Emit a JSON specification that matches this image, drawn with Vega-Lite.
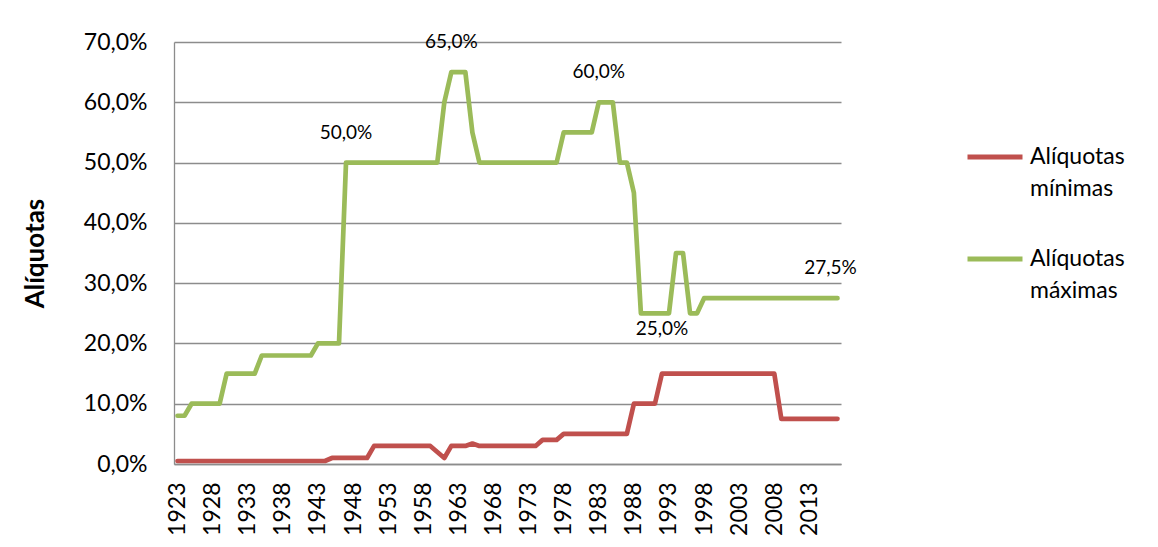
{
  "$schema": "https://vega.github.io/schema/vega-lite/v6.json",
  "width": 667,
  "height": 422,
  "autosize": {"type": "none"},
  "padding": {"left": 174, "top": 42, "right": 317, "bottom": 83},
  "background": "white",
  "config": {
    "view": {"stroke": null},
    "font": "Lato",
    "axis": {"labelColor": "#000000", "titleColor": "#000000", "labelFont": "Lato", "titleFont": "Lato"},
    "legend": {"labelColor": "#000000", "labelFont": "Lato"},
    "style": {"guide-label": {"lineHeight": 32}}
  },
  "datasets": {
    "serie": [
      {"ano": 1923, "Alíquotas mínimas": 0.005, "Alíquotas máximas": 0.08},
      {"ano": 1924, "Alíquotas mínimas": 0.005, "Alíquotas máximas": 0.08},
      {"ano": 1925, "Alíquotas mínimas": 0.005, "Alíquotas máximas": 0.10},
      {"ano": 1926, "Alíquotas mínimas": 0.005, "Alíquotas máximas": 0.10},
      {"ano": 1927, "Alíquotas mínimas": 0.005, "Alíquotas máximas": 0.10},
      {"ano": 1928, "Alíquotas mínimas": 0.005, "Alíquotas máximas": 0.10},
      {"ano": 1929, "Alíquotas mínimas": 0.005, "Alíquotas máximas": 0.10},
      {"ano": 1930, "Alíquotas mínimas": 0.005, "Alíquotas máximas": 0.15},
      {"ano": 1931, "Alíquotas mínimas": 0.005, "Alíquotas máximas": 0.15},
      {"ano": 1932, "Alíquotas mínimas": 0.005, "Alíquotas máximas": 0.15},
      {"ano": 1933, "Alíquotas mínimas": 0.005, "Alíquotas máximas": 0.15},
      {"ano": 1934, "Alíquotas mínimas": 0.005, "Alíquotas máximas": 0.15},
      {"ano": 1935, "Alíquotas mínimas": 0.005, "Alíquotas máximas": 0.18},
      {"ano": 1936, "Alíquotas mínimas": 0.005, "Alíquotas máximas": 0.18},
      {"ano": 1937, "Alíquotas mínimas": 0.005, "Alíquotas máximas": 0.18},
      {"ano": 1938, "Alíquotas mínimas": 0.005, "Alíquotas máximas": 0.18},
      {"ano": 1939, "Alíquotas mínimas": 0.005, "Alíquotas máximas": 0.18},
      {"ano": 1940, "Alíquotas mínimas": 0.005, "Alíquotas máximas": 0.18},
      {"ano": 1941, "Alíquotas mínimas": 0.005, "Alíquotas máximas": 0.18},
      {"ano": 1942, "Alíquotas mínimas": 0.005, "Alíquotas máximas": 0.18},
      {"ano": 1943, "Alíquotas mínimas": 0.005, "Alíquotas máximas": 0.20},
      {"ano": 1944, "Alíquotas mínimas": 0.005, "Alíquotas máximas": 0.20},
      {"ano": 1945, "Alíquotas mínimas": 0.01, "Alíquotas máximas": 0.20},
      {"ano": 1946, "Alíquotas mínimas": 0.01, "Alíquotas máximas": 0.20},
      {"ano": 1947, "Alíquotas mínimas": 0.01, "Alíquotas máximas": 0.50},
      {"ano": 1948, "Alíquotas mínimas": 0.01, "Alíquotas máximas": 0.50},
      {"ano": 1949, "Alíquotas mínimas": 0.01, "Alíquotas máximas": 0.50},
      {"ano": 1950, "Alíquotas mínimas": 0.01, "Alíquotas máximas": 0.50},
      {"ano": 1951, "Alíquotas mínimas": 0.03, "Alíquotas máximas": 0.50},
      {"ano": 1952, "Alíquotas mínimas": 0.03, "Alíquotas máximas": 0.50},
      {"ano": 1953, "Alíquotas mínimas": 0.03, "Alíquotas máximas": 0.50},
      {"ano": 1954, "Alíquotas mínimas": 0.03, "Alíquotas máximas": 0.50},
      {"ano": 1955, "Alíquotas mínimas": 0.03, "Alíquotas máximas": 0.50},
      {"ano": 1956, "Alíquotas mínimas": 0.03, "Alíquotas máximas": 0.50},
      {"ano": 1957, "Alíquotas mínimas": 0.03, "Alíquotas máximas": 0.50},
      {"ano": 1958, "Alíquotas mínimas": 0.03, "Alíquotas máximas": 0.50},
      {"ano": 1959, "Alíquotas mínimas": 0.03, "Alíquotas máximas": 0.50},
      {"ano": 1960, "Alíquotas mínimas": 0.02, "Alíquotas máximas": 0.50},
      {"ano": 1961, "Alíquotas mínimas": 0.01, "Alíquotas máximas": 0.60},
      {"ano": 1962, "Alíquotas mínimas": 0.03, "Alíquotas máximas": 0.65},
      {"ano": 1963, "Alíquotas mínimas": 0.03, "Alíquotas máximas": 0.65},
      {"ano": 1964, "Alíquotas mínimas": 0.03, "Alíquotas máximas": 0.65},
      {"ano": 1965, "Alíquotas mínimas": 0.034, "Alíquotas máximas": 0.55},
      {"ano": 1966, "Alíquotas mínimas": 0.03, "Alíquotas máximas": 0.50},
      {"ano": 1967, "Alíquotas mínimas": 0.03, "Alíquotas máximas": 0.50},
      {"ano": 1968, "Alíquotas mínimas": 0.03, "Alíquotas máximas": 0.50},
      {"ano": 1969, "Alíquotas mínimas": 0.03, "Alíquotas máximas": 0.50},
      {"ano": 1970, "Alíquotas mínimas": 0.03, "Alíquotas máximas": 0.50},
      {"ano": 1971, "Alíquotas mínimas": 0.03, "Alíquotas máximas": 0.50},
      {"ano": 1972, "Alíquotas mínimas": 0.03, "Alíquotas máximas": 0.50},
      {"ano": 1973, "Alíquotas mínimas": 0.03, "Alíquotas máximas": 0.50},
      {"ano": 1974, "Alíquotas mínimas": 0.03, "Alíquotas máximas": 0.50},
      {"ano": 1975, "Alíquotas mínimas": 0.04, "Alíquotas máximas": 0.50},
      {"ano": 1976, "Alíquotas mínimas": 0.04, "Alíquotas máximas": 0.50},
      {"ano": 1977, "Alíquotas mínimas": 0.04, "Alíquotas máximas": 0.50},
      {"ano": 1978, "Alíquotas mínimas": 0.05, "Alíquotas máximas": 0.55},
      {"ano": 1979, "Alíquotas mínimas": 0.05, "Alíquotas máximas": 0.55},
      {"ano": 1980, "Alíquotas mínimas": 0.05, "Alíquotas máximas": 0.55},
      {"ano": 1981, "Alíquotas mínimas": 0.05, "Alíquotas máximas": 0.55},
      {"ano": 1982, "Alíquotas mínimas": 0.05, "Alíquotas máximas": 0.55},
      {"ano": 1983, "Alíquotas mínimas": 0.05, "Alíquotas máximas": 0.60},
      {"ano": 1984, "Alíquotas mínimas": 0.05, "Alíquotas máximas": 0.60},
      {"ano": 1985, "Alíquotas mínimas": 0.05, "Alíquotas máximas": 0.60},
      {"ano": 1986, "Alíquotas mínimas": 0.05, "Alíquotas máximas": 0.50},
      {"ano": 1987, "Alíquotas mínimas": 0.05, "Alíquotas máximas": 0.50},
      {"ano": 1988, "Alíquotas mínimas": 0.10, "Alíquotas máximas": 0.45},
      {"ano": 1989, "Alíquotas mínimas": 0.10, "Alíquotas máximas": 0.25},
      {"ano": 1990, "Alíquotas mínimas": 0.10, "Alíquotas máximas": 0.25},
      {"ano": 1991, "Alíquotas mínimas": 0.10, "Alíquotas máximas": 0.25},
      {"ano": 1992, "Alíquotas mínimas": 0.15, "Alíquotas máximas": 0.25},
      {"ano": 1993, "Alíquotas mínimas": 0.15, "Alíquotas máximas": 0.25},
      {"ano": 1994, "Alíquotas mínimas": 0.15, "Alíquotas máximas": 0.35},
      {"ano": 1995, "Alíquotas mínimas": 0.15, "Alíquotas máximas": 0.35},
      {"ano": 1996, "Alíquotas mínimas": 0.15, "Alíquotas máximas": 0.25},
      {"ano": 1997, "Alíquotas mínimas": 0.15, "Alíquotas máximas": 0.25},
      {"ano": 1998, "Alíquotas mínimas": 0.15, "Alíquotas máximas": 0.275},
      {"ano": 1999, "Alíquotas mínimas": 0.15, "Alíquotas máximas": 0.275},
      {"ano": 2000, "Alíquotas mínimas": 0.15, "Alíquotas máximas": 0.275},
      {"ano": 2001, "Alíquotas mínimas": 0.15, "Alíquotas máximas": 0.275},
      {"ano": 2002, "Alíquotas mínimas": 0.15, "Alíquotas máximas": 0.275},
      {"ano": 2003, "Alíquotas mínimas": 0.15, "Alíquotas máximas": 0.275},
      {"ano": 2004, "Alíquotas mínimas": 0.15, "Alíquotas máximas": 0.275},
      {"ano": 2005, "Alíquotas mínimas": 0.15, "Alíquotas máximas": 0.275},
      {"ano": 2006, "Alíquotas mínimas": 0.15, "Alíquotas máximas": 0.275},
      {"ano": 2007, "Alíquotas mínimas": 0.15, "Alíquotas máximas": 0.275},
      {"ano": 2008, "Alíquotas mínimas": 0.15, "Alíquotas máximas": 0.275},
      {"ano": 2009, "Alíquotas mínimas": 0.075, "Alíquotas máximas": 0.275},
      {"ano": 2010, "Alíquotas mínimas": 0.075, "Alíquotas máximas": 0.275},
      {"ano": 2011, "Alíquotas mínimas": 0.075, "Alíquotas máximas": 0.275},
      {"ano": 2012, "Alíquotas mínimas": 0.075, "Alíquotas máximas": 0.275},
      {"ano": 2013, "Alíquotas mínimas": 0.075, "Alíquotas máximas": 0.275},
      {"ano": 2014, "Alíquotas mínimas": 0.075, "Alíquotas máximas": 0.275},
      {"ano": 2015, "Alíquotas mínimas": 0.075, "Alíquotas máximas": 0.275},
      {"ano": 2016, "Alíquotas mínimas": 0.075, "Alíquotas máximas": 0.275},
      {"ano": 2017, "Alíquotas mínimas": 0.075, "Alíquotas máximas": 0.275}
    ],
    "rotulos": [
      {"ano": 1947, "valor": 0.50, "texto": "50,0%", "pos": "acima"},
      {"ano": 1962, "valor": 0.65, "texto": "65,0%", "pos": "acima"},
      {"ano": 1983, "valor": 0.60, "texto": "60,0%", "pos": "acima"},
      {"ano": 1992, "valor": 0.25, "texto": "25,0%", "pos": "abaixo"},
      {"ano": 2016, "valor": 0.275, "texto": "27,5%", "pos": "acima"}
    ]
  },
  "layer": [
    {
      "data": {"name": "serie"},
      "transform": [{"fold": ["Alíquotas mínimas", "Alíquotas máximas"], "as": ["serie", "valor"]}],
      "mark": {"type": "line", "strokeWidth": 4.7, "strokeJoin": "round", "strokeCap": "round"},
      "encoding": {
        "x": {
          "field": "ano", "type": "quantitative",
          "scale": {"domain": [1922.5, 2017.5], "nice": false, "zero": false},
          "axis": {
            "values": [1923, 1928, 1933, 1938, 1943, 1948, 1953, 1958, 1963, 1968, 1973, 1978, 1983, 1988, 1993, 1998, 2003, 2008, 2013],
            "tickCount": 40,
            "format": "d", "labelAngle": 270, "labelAlign": "right", "labelBaseline": "middle",
            "labelOverlap": false, "labelBound": false, "labelFlush": false,
            "grid": false, "ticks": false, "tickSize": 0, "labelPadding": 18, "labelFontSize": 23,
            "title": null, "domainColor": "#8c8c8c", "domainWidth": 1.3
          }
        },
        "y": {
          "field": "valor", "type": "quantitative",
          "scale": {"domain": [0, 0.7], "nice": false},
          "axis": {
            "values": [0, 0.1, 0.2, 0.3, 0.4, 0.5, 0.6, 0.7],
            "tickCount": 20,
            "labelExpr": "replace(format(datum.value, '.1%'), '.', ',')",
            "labelOverlap": false,
            "title": "Alíquotas", "titleFontSize": 26, "titleFontWeight": "bold", "titlePadding": 35,
            "grid": true, "gridColor": "#8c8c8c", "gridWidth": 1.3, "domainColor": "#8c8c8c", "domainWidth": 1.3,
            "ticks": false, "tickSize": 0, "labelPadding": 27, "labelFontSize": 23
          }
        },
        "color": {
          "field": "serie", "type": "nominal",
          "scale": {"domain": ["Alíquotas mínimas", "Alíquotas máximas"], "range": ["#C0504D", "#9BBB59"]},
          "legend": {
            "orient": "none", "legendX": 791, "legendY": 85, "title": null,
            "symbolType": "stroke", "symbolSize": 3025, "symbolStrokeWidth": 5,
            "labelFontSize": 23, "labelExpr": "split(datum.label, ' ')", "labelLimit": 0,
            "labelOffset": 5, "rowPadding": 28
          }
        }
      }
    },
    {
      "data": {"name": "rotulos"},
      "transform": [{"filter": "datum.pos == 'acima'"}],
      "mark": {"type": "text", "dy": -30, "fontSize": 19, "font": "Lato", "color": "#000000"},
      "encoding": {
        "x": {"field": "ano", "type": "quantitative"},
        "y": {"field": "valor", "type": "quantitative"},
        "text": {"field": "texto"}
      }
    },
    {
      "data": {"name": "rotulos"},
      "transform": [{"filter": "datum.pos == 'abaixo'"}],
      "mark": {"type": "text", "dy": 16, "fontSize": 19, "font": "Lato", "color": "#000000"},
      "encoding": {
        "x": {"field": "ano", "type": "quantitative"},
        "y": {"field": "valor", "type": "quantitative"},
        "text": {"field": "texto"}
      }
    }
  ]
}
